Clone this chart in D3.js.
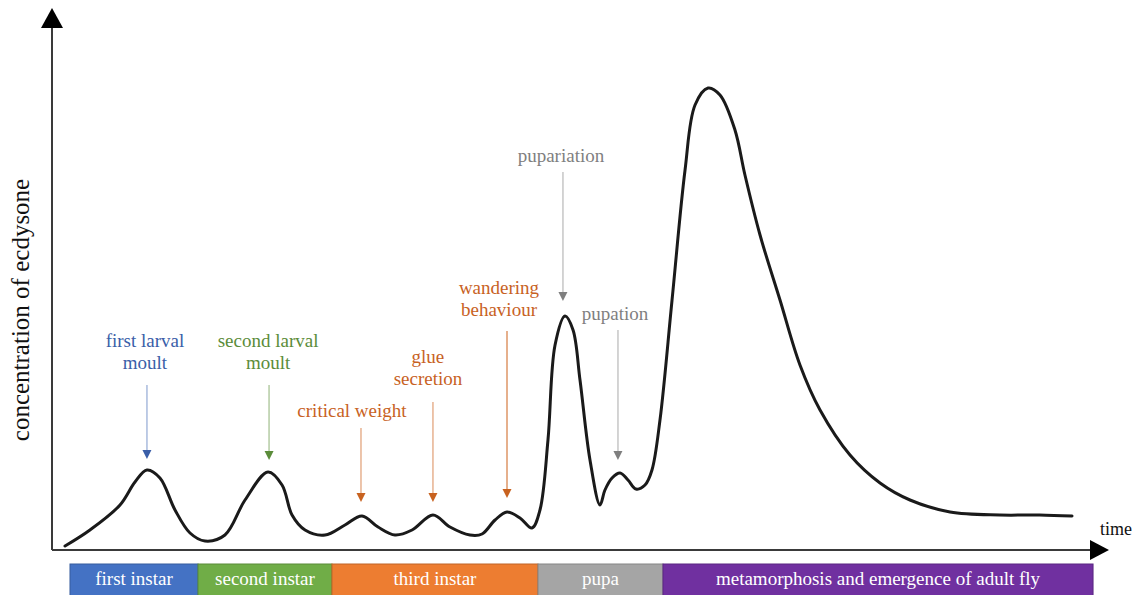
<!DOCTYPE html>
<html>
<head>
<meta charset="utf-8">
<script src="https://cdn.jsdelivr.net/npm/d3@7"></script>
<style>
  body { margin: 0; background: #fff; }
</style>
</head>
<body>
<script>
// ecdysone curve (time 0-100, concentration 0-100)
var times = [1.25, 3.65, 6.54, 7.98, 9.13, 10.38, 11.83, 13.27, 14.71, 16.63,
    18.56, 20.77, 22.12, 23.08, 24.33, 26.25, 28.17, 29.81, 31.35, 32.98,
    34.62, 36.63, 38.27, 40.19, 41.35, 42.6, 43.75, 45, 46.15, 46.92,
    47.69, 48.37, 49.33, 50.1, 50.77, 51.73, 52.69, 53.17, 53.85, 54.62,
    55.38, 56.15, 57.02, 57.69, 58.46, 59.62, 60.87, 61.83, 63.08, 64.23,
    65.67, 66.63, 68.08, 70, 71.92, 73.85, 76.73, 79.62, 82.5, 86.35,
    91.15, 94.96, 98.08];
var levels = [0.8, 4, 9, 13.6, 16, 14.4, 8, 3.4, 1.8, 3,
    10, 15.6, 13, 7, 4, 3, 5, 6.8, 4.6, 3,
    4, 7, 4.6, 3, 3.2, 6, 7.6, 6.4, 4.4, 8,
    22, 41, 46.8, 44, 34, 18, 9, 12, 14.4, 15.4,
    14, 12.2, 13, 16, 26, 50, 76, 89, 92.4, 91,
    84, 75, 63, 50, 37, 28, 19, 13.4, 10, 7.6,
    7, 7, 6.8];

// events marked with arrows
var eventNames = [["first larval", "moult"], ["second larval", "moult"], ["critical weight"],
    ["glue", "secretion"], ["wandering", "behaviour"], ["pupariation"], ["pupation"]];
var eventTimes = [9.13, 20.87, 29.71, 36.63, 43.75, 49.13, 54.42];
var arrowFrom = [33, 33, 24.4, 29.6, 43.8, 75.6, 44];
var arrowTo = [18.2, 18, 9.6, 9.6, 10.4, 49.8, 18];
var eventColors = ["#3a5ea8", "#5b8c3a", "#c8621f", "#c8621f", "#c8621f", "#7f7f7f", "#7f7f7f"];
var lineColors = ["#9bb0d8", "#a9c496", "#e3a57e", "#e3a57e", "#d9864f", "#bdbdbd", "#bdbdbd"];
var gapAbove = [16, 16, 11, 17, 15, 10, 10];
var labelShift = [-2, -1, -9, -5, -8, -2, -3];

// developmental stages along the bottom
var stageNames = ["first instar", "second instar", "third instar", "pupa",
    "metamorphosis and emergence of adult fly"];
var stageStart = [1.73, 14.04, 26.92, 46.73, 58.75];
var stageEnd = [14.04, 26.92, 46.73, 58.75, 100.1];
var stageColors = ["#4472c4", "#70ad47", "#ed7d31", "#a5a5a5", "#7030a0"];

var width = 1137, height = 595;
var x0 = 52, y0 = 550;
var serif = "'Liberation Serif', 'Times New Roman', Times, 'DejaVu Serif', serif";

var x = d3.scaleLinear().domain([0, 100]).range([x0, 1092]);
var y = d3.scaleLinear().domain([0, 100]).range([y0, 50]);

var svg = d3.select("body").append("svg")
    .attr("width", width)
    .attr("height", height)
    .style("font-family", serif);

// axes with arrow heads
svg.append("line")
    .attr("x1", x0).attr("y1", y0)
    .attr("x2", x0).attr("y2", 26)
    .attr("stroke", "#3a3a3a").attr("stroke-width", 2);
svg.append("path")
    .attr("d", "M" + (x0 - 11) + ",28L" + x0 + ",8L" + (x0 + 11) + ",28Z")
    .attr("fill", "#000");
svg.append("line")
    .attr("x1", x0).attr("y1", y0)
    .attr("x2", 1092).attr("y2", y0)
    .attr("stroke", "#3a3a3a").attr("stroke-width", 2);
svg.append("path")
    .attr("d", "M1090," + (y0 - 10) + "L1109," + y0 + "L1090," + (y0 + 10) + "Z")
    .attr("fill", "#000");

svg.append("text")
    .attr("transform", "translate(29,310) rotate(-90)")
    .attr("text-anchor", "middle")
    .attr("font-family", serif)
    .attr("font-size", 25)
    .attr("fill", "#111")
    .text("concentration of ecdysone");

svg.append("text")
    .attr("x", 1116).attr("y", 535)
    .attr("text-anchor", "middle")
    .attr("font-family", serif)
    .attr("font-size", 18)
    .attr("fill", "#111")
    .text("time");

// curve
var line = d3.line()
    .x(function(d, i) { return x(times[i]); })
    .y(function(d) { return y(d); })
    .curve(d3.curveCatmullRom.alpha(0.5));

svg.append("path")
    .datum(levels)
    .attr("d", line)
    .attr("fill", "none")
    .attr("stroke", "#1a1a1a")
    .attr("stroke-width", 3)
    .attr("stroke-linecap", "round");

// annotations
var ev = svg.selectAll(".event")
    .data(eventTimes)
    .enter()
    .append("g")
    .attr("class", "event");

ev.append("line")
    .attr("x1", function(d) { return x(d); })
    .attr("x2", function(d) { return x(d); })
    .attr("y1", function(d, i) { return y(arrowFrom[i]); })
    .attr("y2", function(d, i) { return y(arrowTo[i]) - 8; })
    .attr("stroke", function(d, i) { return lineColors[i]; })
    .attr("stroke-width", 1.3);

ev.append("path")
    .attr("d", function(d, i) {
        var tx = x(d), ty = y(arrowTo[i]);
        return "M" + (tx - 4.5) + "," + (ty - 9) + "L" + tx + "," + ty + "L" + (tx + 4.5) + "," + (ty - 9) + "Z";
    })
    .attr("fill", function(d, i) { return eventColors[i]; });

ev.each(function(d, i) {
    var g = d3.select(this);
    var lines = eventNames[i];
    var base = y(arrowFrom[i]) - gapAbove[i];
    lines.forEach(function(t, k) {
        g.append("text")
            .attr("x", x(d) + labelShift[i])
            .attr("y", base - (lines.length - 1 - k) * 22)
            .attr("text-anchor", "middle")
            .attr("font-family", serif)
            .attr("font-size", 19)
            .attr("fill", eventColors[i])
            .text(t);
    });
});

// stage bar
var stage = svg.selectAll(".stage")
    .data(stageNames)
    .enter()
    .append("g")
    .attr("class", "stage");

stage.append("rect")
    .attr("x", function(d, i) { return x(stageStart[i]); })
    .attr("y", 564)
    .attr("width", function(d, i) { return x(stageEnd[i]) - x(stageStart[i]); })
    .attr("height", 32)
    .attr("fill", function(d, i) { return stageColors[i]; })
    .attr("stroke", function(d, i) { return d3.color(stageColors[i]).darker(0.6); })
    .attr("stroke-width", 1);

stage.append("text")
    .attr("x", function(d, i) { return (x(stageStart[i]) + x(stageEnd[i])) / 2; })
    .attr("y", 585)
    .attr("text-anchor", "middle")
    .attr("font-family", serif)
    .attr("font-size", 19)
    .attr("fill", "#fff")
    .text(function(d) { return d; });
</script>
</body>
</html>
